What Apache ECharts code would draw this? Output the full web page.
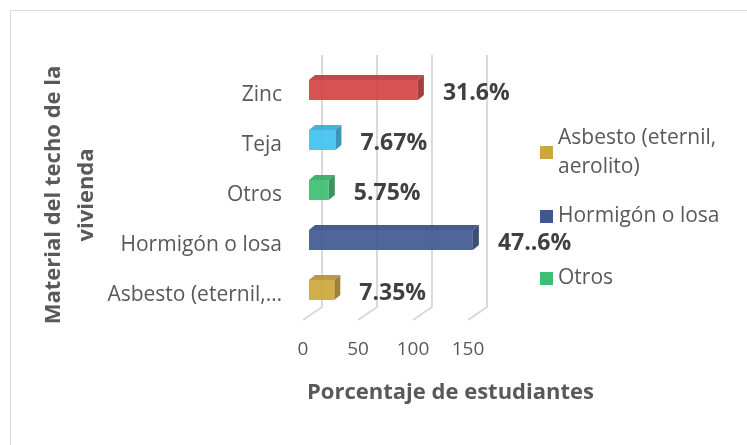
<!DOCTYPE html>
<html>
<head>
<meta charset="utf-8">
<script src="https://cdn.jsdelivr.net/npm/echarts@6/dist/echarts.min.js"></script>
<style>
  html, body { margin: 0; padding: 0; background: #ffffff; }
  #chart { width: 747px; height: 445px; }
</style>
</head>
<body>
<div id="chart"></div>
<script>
// datos (orden de Excel: de abajo hacia arriba)
const categories = ['Asbesto (eternil, aerolito)', 'Hormigón o losa', 'Otros', 'Teja', 'Zinc'];
const counts = [23, 149, 18, 24, 99];
const percentLabels = ['7.35%', '47..6%', '5.75%', '7.67%', '31.6%'];
const barColors = ['#CCA73A', '#3F5990', '#3DBF72', '#3FC2F3', '#D44343'];
const xTicks = [0, 50, 100, 150];
const legendNames = ['Asbesto (eternil,\naerolito)', 'Hormigón o losa', 'Otros'];
const legendColors = ['#CCA73A', '#3F5990', '#3DBF72'];

const FONT = '"Open Sans", "Noto Sans", sans-serif';

// oscurecer un color para las caras laterales
function shade(hex, f) {
    const n = parseInt(hex.slice(1), 16);
    const r = Math.round(((n >> 16) & 255) * f);
    const g = Math.round(((n >> 8) & 255) * f);
    const b = Math.round((n & 255) * f);
    return 'rgb(' + r + ',' + g + ',' + b + ')';
}

const myChart = echarts.init(document.getElementById('chart'));

const DX = 6, DY = -5; // profundidad del efecto 3D

const option = {
    animation: false,
    backgroundColor: '#ffffff',
    graphic: [{
        type: 'rect',
        shape: { x: 10.5, y: 10.5, width: 760, height: 460 },
        style: { fill: 'none', stroke: '#d9d9d9', lineWidth: 1 },
        z: -10
    }],
    grid: { left: 303, top: 70, width: 165, height: 250 },
    legend: [{
        data: [legendNames[0]],
        orient: 'vertical',
        left: 540,
        top: 109,
        padding: 0,
        itemWidth: 13,
        itemHeight: 13,
        icon: 'rect',
        selectedMode: false,
        textStyle: { fontFamily: FONT, fontSize: 21, color: '#595959', lineHeight: 29, padding: [29, 0, 0, 0] }
    }, {
        data: legendNames.slice(1),
        orient: 'vertical',
        left: 540,
        top: 202,
        padding: 0,
        itemWidth: 13,
        itemHeight: 13,
        itemGap: 33,
        icon: 'rect',
        selectedMode: false,
        textStyle: { fontFamily: FONT, fontSize: 21, color: '#595959', lineHeight: 29 }
    }],
    xAxis: {
        type: 'value',
        min: 0,
        max: 150,
        interval: 50,
        axisLine: { show: false },
        axisTick: { show: false },
        splitLine: { show: false },
        axisLabel: { fontFamily: FONT, fontSize: 19, color: '#595959', margin: 20 },
        name: 'Porcentaje de estudiantes',
        nameLocation: 'middle',
        nameGap: 62,
        nameTextStyle: { fontFamily: FONT, fontSize: 22, fontWeight: 'bold', color: '#595959', padding: [0, 0, 0, 130] }
    },
    yAxis: {
        type: 'category',
        data: categories,
        axisLine: { show: false },
        axisTick: { show: false },
        axisLabel: {
            fontFamily: FONT, fontSize: 21, color: '#595959', margin: 21,
            width: 178, overflow: 'truncate', ellipsis: '…'
        },
        name: 'Material del techo de la\nvivienda',
        nameLocation: 'middle',
        nameRotate: 90,
        nameGap: 187,
        nameTextStyle: { fontFamily: FONT, fontSize: 22, fontWeight: 'bold', color: '#595959', lineHeight: 33 }
    },
    series: [{
        // líneas de la pared del fondo y del suelo
        type: 'custom',
        silent: true,
        z: 1,
        data: xTicks.map(function (t) { return [t, 0]; }),
        renderItem: function (params, api) {
            const x = api.coord([api.value(0), 0])[0];
            const sys = params.coordSys;
            const yb = sys.y + sys.height;
            return {
                type: 'polyline',
                shape: { points: [[x, yb], [x + 19, yb - 13], [x + 19, sys.y - 15]] },
                style: { fill: 'none', stroke: '#d9d9d9', lineWidth: 2 }
            };
        }
    }, {
        type: 'custom',
        z: 2,
        data: counts.map(function (v, i) { return [v, i]; }),
        renderItem: function (params, api) {
            const i = params.dataIndex;
            const p0 = api.coord([0, api.value(1)]);
            const p1 = api.coord([api.value(0), api.value(1)]);
            const x0 = p0[0] + 6, x1 = p1[0] + 6;
            const yt = p0[1] - 15, yb = p0[1] + 5;
            const col = barColors[i];
            return {
                type: 'group',
                children: [{
                    type: 'polygon',
                    shape: { points: [[x0, yt], [x1, yt], [x1 + DX, yt + DY], [x0 + DX, yt + DY]] },
                    style: { fill: shade(col, 0.88), opacity: 0.92 }
                }, {
                    type: 'polygon',
                    shape: { points: [[x1, yt], [x1 + DX, yt + DY], [x1 + DX, yb + DY], [x1, yb]] },
                    style: { fill: shade(col, 0.72), opacity: 0.92 }
                }, {
                    type: 'rect',
                    shape: { x: x0, y: yt, width: x1 - x0, height: yb - yt },
                    style: { fill: col, opacity: 0.92 }
                }, {
                    type: 'text',
                    style: {
                        text: percentLabels[i],
                        x: x1 + 25,
                        y: p0[1] - 2,
                        verticalAlign: 'middle',
                        fontFamily: FONT,
                        fontSize: 23,
                        fontWeight: 'bold',
                        fill: '#404040'
                    }
                }]
            };
        }
    }].concat(legendNames.map(function (name, i) {
        return { type: 'bar', name: name, data: [], itemStyle: { color: legendColors[i] } };
    }))
};

myChart.setOption(option);
window.addEventListener('resize', myChart.resize);
</script>
</body>
</html>
